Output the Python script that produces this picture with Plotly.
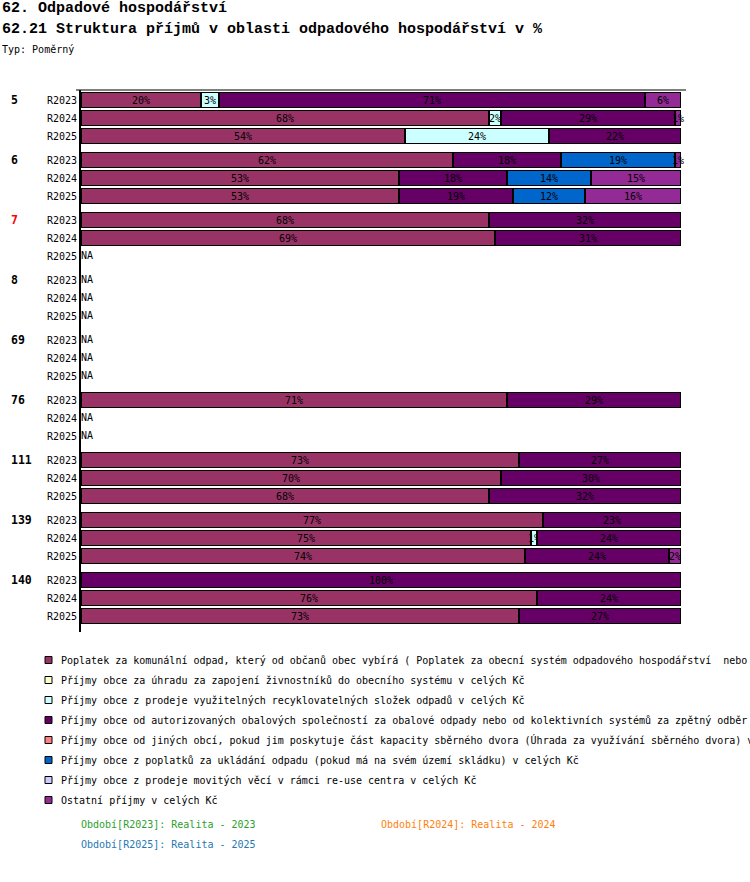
import plotly.graph_objects as go

# rows: each group (obec) has three periods
groups = ["5", "6", "7", "8", "69", "76", "111", "139", "140"]
periods = ["R2023", "R2024", "R2025"]
highlight_group = "7"

# shares in % per row (group x period), 0 = no value
poplatek = [20, 68, 54, 62, 53, 53, 68, 69, 0, 0, 0, 0, 0, 0, 0, 71, 0, 0,
            73, 70, 68, 77, 75, 74, 0, 76, 73]
zivnostnici = [0, 0, 0, 0, 0, 0, 0, 0, 0, 0, 0, 0, 0, 0, 0, 0, 0, 0,
               0, 0, 0, 0, 0, 0, 0, 0, 0]
recyklace = [3, 2, 24, 0, 0, 0, 0, 0, 0, 0, 0, 0, 0, 0, 0, 0, 0, 0,
             0, 0, 0, 0, 1, 0, 0, 0, 0]
obalove = [71, 29, 22, 18, 18, 19, 32, 31, 0, 0, 0, 0, 0, 0, 0, 29, 0, 0,
           27, 30, 32, 23, 24, 24, 100, 24, 27]
jine_obce = [0, 0, 0, 0, 0, 0, 0, 0, 0, 0, 0, 0, 0, 0, 0, 0, 0, 0,
             0, 0, 0, 0, 0, 0, 0, 0, 0]
skladka = [0, 0, 0, 19, 14, 12, 0, 0, 0, 0, 0, 0, 0, 0, 0, 0, 0, 0,
           0, 0, 0, 0, 0, 0, 0, 0, 0]
reuse = [0, 0, 0, 0, 0, 0, 0, 0, 0, 0, 0, 0, 0, 0, 0, 0, 0, 0,
         0, 0, 0, 0, 0, 0, 0, 0, 0]
ostatni = [6, 1, 0, 1, 15, 16, 0, 0, 0, 0, 0, 0, 0, 0, 0, 0, 0, 0,
           0, 0, 0, 0, 0, 2, 0, 0, 0]

series_names = [
    "Poplatek za komunální odpad, který od občanů obec vybírá ( Poplatek za obecní systém odpadového hospodářství  nebo",
    "Příjmy obce za úhradu za zapojení živnostníků do obecního systému v celých Kč",
    "Příjmy obce z prodeje využitelných recyklovatelných složek odpadů v celých Kč",
    "Příjmy obce od autorizovaných obalových společností za obalové odpady nebo od kolektivních systémů za zpětný odběr",
    "Příjmy obce od jiných obcí, pokud jim poskytuje část kapacity sběrného dvora (Úhrada za využívání sběrného dvora) v",
    "Příjmy obce z poplatků za ukládání odpadu (pokud má na svém území skládku) v celých Kč",
    "Příjmy obce z prodeje movitých věcí v rámci re-use centra v celých Kč",
    "Ostatní příjmy v celých Kč",
]
series_values = [poplatek, zivnostnici, recyklace, obalove, jine_obce, skladka, reuse, ostatni]
series_colors = ["#993366", "#FFFFCC", "#CCFFFF", "#660066", "#FF8080", "#0066CC", "#CCCCFF", "#942A96"]

period_notes = ["Období[R2023]: Realita - 2023", "Období[R2024]: Realita - 2024", "Období[R2025]: Realita - 2025"]
period_colors = ["#2ca02c", "#ff7f0e", "#1f77b4"]

MONO = "DejaVu Sans Mono"
W, H = 750, 882
PL, PT, PR, PB = 81, 90, 681, 632  # plot area in pixels
PW, PH = PR - PL, PB - PT


def px(x):
    return (x - PL) / PW


def py(y):
    return (PB - y) / PH


# row positions: one unit per row, small gap between groups
row_y, row_lab = [], []
for gi, g in enumerate(groups):
    for pi, p in enumerate(periods):
        row_y.append(gi * (10 / 3) + pi)
        row_lab.append(p)

fig = go.Figure()
for name, vals, col in zip(series_names, series_values, series_colors):
    xs = [v if v else None for v in vals]
    fig.add_trace(go.Bar(
        x=xs, y=row_y, orientation="h", name=name, width=0.82,
        marker=dict(color=col, line=dict(color="black", width=1.2)),
        text=[f"{v}%" if v else "" for v in vals],
        textposition="inside", insidetextanchor="middle", textangle=0,
        constraintext="none", cliponaxis=False,
        insidetextfont=dict(family=MONO, size=10, color="black"),
        showlegend=False, hoverinfo="skip",
    ))

# NA rows
na_y = [y for i, y in enumerate(row_y) if sum(s[i] for s in series_values) == 0]
fig.add_trace(go.Scatter(
    x=[0] * len(na_y), y=na_y, mode="text", text=["NA"] * len(na_y),
    textposition="middle right", textfont=dict(family=MONO, size=10, color="black"),
    showlegend=False, hoverinfo="skip", cliponaxis=False,
))

ann = []
# group labels
for gi, g in enumerate(groups):
    ann.append(dict(x=px(9), y=row_y[gi * 3], xref="paper", yref="y", text=g,
                    showarrow=False, xanchor="left", yanchor="middle",
                    font=dict(family=MONO, size=11.5, weight="bold",
                              color="red" if g == highlight_group else "black")))

# header
ann.append(dict(x=px(0), y=py(8), xref="paper", yref="paper", text="62. Odpadové hospodářství",
                showarrow=False, xanchor="left", yanchor="middle",
                font=dict(family="Liberation Mono", size=15, weight="bold", color="black")))
ann.append(dict(x=px(0), y=py(30), xref="paper", yref="paper",
                text="62.21 Struktura příjmů v oblasti odpadového hospodářství v %",
                showarrow=False, xanchor="left", yanchor="middle",
                font=dict(family="Liberation Mono", size=15, weight="bold", color="black")))
ann.append(dict(x=px(0), y=py(50), xref="paper", yref="paper", text="Typ: Poměrný",
                showarrow=False, xanchor="left", yanchor="middle",
                font=dict(family=MONO, size=10, color="black")))

shapes = [dict(type="line", xref="paper", yref="paper", x0=px(76), x1=px(686), y0=1, y1=1,
               line=dict(color="black", width=1.2))]

# legend drawn by hand
for i, (name, col) in enumerate(zip(series_names, series_colors)):
    cy = 660 + 20 * i
    shapes.append(dict(type="rect", xref="paper", yref="paper",
                       x0=px(45), x1=px(52), y0=py(cy - 3.5), y1=py(cy + 3.5),
                       fillcolor=col, line=dict(color="black", width=1)))
    ann.append(dict(x=px(59), y=py(cy), xref="paper", yref="paper", text=name,
                    showarrow=False, xanchor="left", yanchor="middle",
                    font=dict(family=MONO, size=10, color="black")))

# period notes
note_pos = [(79, 824.5), (379, 824.5), (79, 844.5)]
for (nx, ny), txt, col in zip(note_pos, period_notes, period_colors):
    ann.append(dict(x=px(nx), y=py(ny), xref="paper", yref="paper", text=txt,
                    showarrow=False, xanchor="left", yanchor="middle",
                    font=dict(family=MONO, size=10, color=col)))

fig.update_layout(
    width=W, height=H, barmode="stack",
    margin=dict(l=PL, r=W - PR, t=PT, b=H - PB, autoexpand=False),
    paper_bgcolor="white", plot_bgcolor="white",
    font=dict(family=MONO, size=10, color="black"),
    uniformtext=dict(minsize=10, mode="show"),
    xaxis=dict(range=[0, 100], visible=False, fixedrange=True),
    yaxis=dict(range=[29.556, -0.567], tickvals=row_y, ticktext=row_lab, fixedrange=True,
               showgrid=False, zeroline=False, showline=True, linecolor="black",
               linewidth=2, ticks="", tickfont=dict(family=MONO, size=10, color="black")),
    annotations=ann, shapes=shapes, showlegend=False,
)

# drop the default page margin so the figure sits at the window's corner
fig.write_html("out.html", config={"displayModeBar": False},
               post_script="document.body.style.margin='0';")
